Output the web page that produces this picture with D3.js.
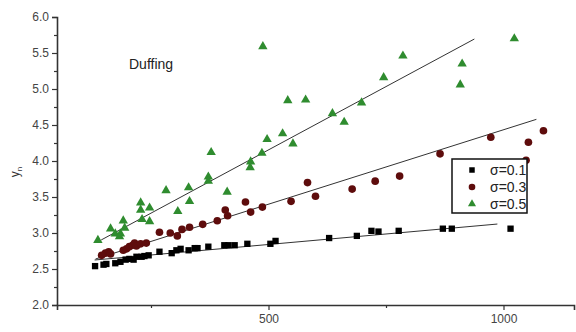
<!DOCTYPE html>
<html>
<head>
<meta charset="utf-8">
<script src="https://cdn.jsdelivr.net/npm/d3@7"></script>
<style>
  html, body { margin: 0; padding: 0; background: #fff; }
  svg { display: block; font-family: "Liberation Sans", Arial, sans-serif; }
</style>
</head>
<body>
<svg id="chart" width="576" height="332"></svg>
<script>
// Duffing response y_n versus n for three noise levels
const seriesNames = ["σ=0.1", "σ=0.3", "σ=0.5"];

const s01x = [131,149,155,174,185,196,204,213,219,230,236,245,268,294,304,313,330,343,349,372,406,415,428,455,504,515,629,688,719,734,777,871,890,1015];
const s01y = [2.54,2.56,2.57,2.58,2.60,2.63,2.64,2.63,2.67,2.67,2.68,2.69,2.74,2.72,2.76,2.78,2.76,2.79,2.79,2.81,2.83,2.83,2.83,2.85,2.85,2.89,2.93,2.96,3.03,3.02,3.03,3.06,3.06,3.06];

const s03x = [145,153,160,164,191,198,204,211,215,219,228,240,268,291,306,316,332,360,391,408,413,451,462,487,548,583,600,678,727,779,865,973,1048,1053,1085];
const s03y = [2.69,2.72,2.74,2.71,2.76,2.78,2.81,2.83,2.86,2.82,2.85,2.86,3.01,3.00,2.96,3.05,3.08,3.12,3.17,3.32,3.24,3.43,3.29,3.36,3.44,3.70,3.51,3.61,3.72,3.79,4.10,4.33,4.01,4.26,4.42];

const s05x = [137,164,174,183,185,191,194,228,228,231,247,247,282,307,330,332,372,372,378,412,461,462,486,488,497,530,541,552,579,636,661,698,745,786,908,912,1023];
const s05y = [2.90,3.06,2.99,2.95,2.99,3.17,3.07,3.42,3.32,3.19,3.35,3.16,3.59,3.30,3.63,3.44,3.78,3.72,4.12,3.57,3.91,3.99,4.11,5.59,4.30,4.38,4.84,4.24,4.85,4.66,4.54,4.81,5.16,5.46,5.06,5.35,5.70];

// linear fits y = a + b·n, and the n-range each fit line covers
const fitA    = [2.549, 2.366, 2.397];
const fitB    = [0.000583, 0.002068, 0.003515];
const fitFrom = [130, 132, 144];
const fitTo   = [987, 1070, 938];

const colors = ["#000000", "#5e0c0c", "#2f8c2f"];
const shapes = [d3.symbolSquare, d3.symbolCircle, d3.symbolTriangle];
const sizes  = [40, 46, 38];

const xTicks = [500, 1000];
const xMinor = [250, 750];
const yTicks = [2.0, 2.5, 3.0, 3.5, 4.0, 4.5, 5.0, 5.5, 6.0];

const svg = d3.select("#chart");
const x = d3.scaleLinear().domain([50, 1150]).range([57, 574]);
const y = d3.scaleLinear().domain([2, 6]).range([305, 17]);

const series = [[s01x, s01y], [s03x, s03y], [s05x, s05y]].map(([xs, ys], i) => ({
  name: seriesNames[i],
  pts: xs.map((v, j) => ({ x: v, y: ys[j] })),
  color: colors[i], shape: shapes[i], size: sizes[i], i
}));

// axes
const axisColor = "#333";
const yAxis = d3.axisLeft(y).tickValues(yTicks).tickFormat(d3.format(".1f")).tickSize(5).tickPadding(3);
svg.append("g").attr("transform", "translate(57,0)").call(yAxis);
const yMinorVals = d3.range(2.25, 6, 0.5);
svg.append("g").attr("transform", "translate(57,0)")
  .call(d3.axisLeft(y).tickValues(yMinorVals).tickSize(3).tickFormat(""))
  .call(g => g.select(".domain").remove());

const xAxis = d3.axisBottom(x).tickValues(xTicks).tickFormat(d3.format("d")).tickSize(5).tickPadding(4);
svg.append("g").attr("transform", "translate(0,305)").call(xAxis);
svg.append("g").attr("transform", "translate(0,305)")
  .call(d3.axisBottom(x).tickValues(xMinor).tickSize(3).tickFormat(""))
  .call(g => g.select(".domain").remove());

svg.selectAll(".domain").attr("stroke", axisColor).attr("stroke-width", 1.6);
svg.selectAll(".tick line").attr("stroke", axisColor).attr("stroke-width", 1.2);
svg.selectAll(".tick text").attr("fill", "#444").attr("font-size", 12)
  .attr("font-family", "Liberation Sans, Arial, sans-serif");

// fit lines
series.forEach(s => {
  const a = fitA[s.i], b = fitB[s.i];
  const x0 = fitFrom[s.i], x1 = fitTo[s.i];
  svg.append("line")
    .attr("x1", x(x0)).attr("y1", y(a + b * x0))
    .attr("x2", x(x1)).attr("y2", y(a + b * x1))
    .attr("stroke", "#333").attr("stroke-width", 1);
});

// markers
series.forEach(s => {
  svg.append("g").selectAll("path").data(s.pts).join("path")
    .attr("transform", d => `translate(${x(d.x)},${y(d.y)})`)
    .attr("d", d3.symbol().type(s.shape).size(s.size))
    .attr("fill", s.color);
});

// axis title y_n
const yl = svg.append("text")
  .attr("transform", "translate(19,172) rotate(-90)")
  .attr("text-anchor", "middle").attr("font-size", 12).attr("fill", "#333");
yl.append("tspan").text("y");
yl.append("tspan").attr("font-size", 8).attr("dy", 3).text("n");

// annotation
svg.append("text").attr("x", 129).attr("y", 69)
  .attr("font-size", 14).attr("fill", "#222").text("Duffing");

// legend
const lg = svg.append("g");
lg.append("rect").attr("x", 452).attr("y", 159).attr("width", 75).attr("height", 54)
  .attr("fill", "#fff").attr("stroke", "#111").attr("stroke-width", 1.5);
series.forEach((s, i) => {
  const cy = 170 + i * 17;
  lg.append("path").attr("transform", `translate(472,${cy})`)
    .attr("d", d3.symbol().type(s.shape).size(s.size * 0.75)).attr("fill", s.color);
  lg.append("text").attr("x", 490).attr("y", cy + 5).attr("font-size", 14)
    .attr("fill", "#222").text(s.name);
});
</script>
</body>
</html>
